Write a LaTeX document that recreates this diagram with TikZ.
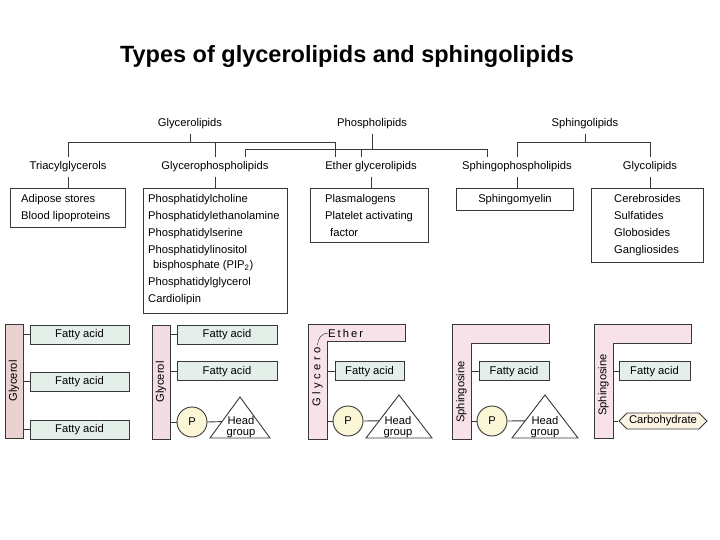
\documentclass[tikz,border=0pt]{standalone}
\usepackage{fontspec}
\setmainfont{Liberation Sans}
\usetikzlibrary{calc,shapes.symbols}
\colorlet{linecol}{black!78}
\definecolor{glycol}{RGB}{234,210,208}
\definecolor{glyccol}{RGB}{242,221,227}
\definecolor{sphcol}{RGB}{247,226,233}
\definecolor{fattycol}{RGB}{229,239,233}
\definecolor{pcol}{RGB}{251,246,214}
\definecolor{carbcol}{RGB}{252,244,226}
\tikzset{
  every node/.style={font=\fontsize{11.2}{17}\selectfont},
  lbl/.style={text height=8pt, text depth=2.5pt, inner xsep=1pt, inner ysep=4.5pt},
  treeline/.style={draw=linecol, line width=0.9pt},
  listbox/.style={draw=linecol, line width=1pt, fill=white, anchor=north west, inner sep=0pt},
  listtext/.style={align=left, anchor=north west, inner sep=0pt},
  fatty/.style={draw=linecol, line width=0.9pt, fill=fattycol, minimum height=19pt, inner sep=0pt,
                text height=8pt, text depth=1.5pt},
  backbone/.style={draw=linecol, line width=0.9pt, rotate=90, inner sep=0pt},
  pgroup/.style={circle, draw=linecol, line width=0.9pt, fill=pcol, minimum size=30pt, inner sep=0pt},
  headtri/.style={draw=linecol, line width=0.9pt, fill=white},
  headtext/.style={align=center, font=\fontsize{11.2}{11.5}\selectfont, inner sep=0pt},
  link/.style={draw=linecol, line width=0.9pt},
}

\begin{document}
\begin{tikzpicture}[x=1pt, y=-1pt]

  % Page.
  \fill[white] (0,0) rectangle (720,540);
  \useasboundingbox (0,0) rectangle (720,540);

  % Title.
  \node[font=\fontsize{23.5}{28}\selectfont\bfseries] (title) at (347,56)
    {Types of glycerolipids and sphingolipids};

  % Class names, two rows.
  \node[lbl] (glycerolipids) at (190,124) {Glycerolipids};
  \node[lbl] (phospholipids) at (372,124) {Phospholipids};
  \node[lbl] (sphingolipids) at (585,124) {Sphingolipids};
  \node[lbl] (triacyl)      at (68,167)  {Triacylglycerols};
  \node[lbl] (glycerophos)  at (215,167) {Glycerophospholipids};
  \node[lbl] (ether)        at (371,167) {Ether glycerolipids};
  \node[lbl] (sphingophos)  at (517,167) {Sphingophospholipids};
  \node[lbl] (glycolipids)  at (650,167) {Glycolipids};

  % Example boxes.
  \node[listbox, minimum width=115pt, minimum height=39pt]  (adiposebox) at (10,188) {};
  \node[listbox, minimum width=144pt, minimum height=125pt] (phosbox)    at (143,188) {};
  \node[listbox, minimum width=118pt, minimum height=54pt]  (plasmabox)  at (310,188) {};
  \node[listbox, minimum width=117pt, minimum height=22pt]  (myelinbox)  at (456,188) {};
  \node[listbox, minimum width=112pt, minimum height=74pt]  (cerebbox)   at (591,188) {};

  \node[listtext] (adiposetxt) at (21,194) {Adipose stores\\Blood lipoproteins};
  \node[listtext] (phostxt) at (148,194) {Phosphatidylcholine\\Phosphatidylethanolamine\\
    Phosphatidylserine\\Phosphatidylinositol\\[-2pt]\hspace*{5pt}bisphosphate (PIP\textsubscript{2})\\
    Phosphatidylglycerol\\Cardiolipin};
  \node[listtext] (plasmatxt) at (325,194) {Plasmalogens\\Platelet activating\\\hspace*{5pt}factor};
  \node (myelintxt) at (myelinbox.center) {Sphingomyelin};
  \node[listtext] (cerebtxt) at (614,194) {Cerebrosides\\Sulfatides\\Globosides\\Gangliosides};

  % Tree connectors.
  \coordinate (gbar) at (0,142);
  \coordinate (pbar) at (0,149);
  \coordinate (etherL) at ($(ether.north)+(-36,0)$);
  \coordinate (etherR) at ($(ether.north)+(-10,0)$);
  \coordinate (glphR)  at ($(glycerophos.north)+(30,0)$);
  \coordinate (sphphL) at ($(sphingophos.north)+(-30,0)$);

  \draw[treeline] (glycerolipids.south) -- (glycerolipids.south |- gbar);
  \draw[treeline] (triacyl.north) |- (etherL |- gbar) -- (etherL);
  \draw[treeline] (glycerophos.north) -- (glycerophos.north |- gbar);

  \draw[treeline] (phospholipids.south) -- (phospholipids.south |- pbar);
  \draw[treeline] (glphR) |- (sphphL |- pbar) -- (sphphL);
  \draw[treeline] (etherR) -- (etherR |- pbar);

  \draw[treeline] (sphingolipids.south) -- (sphingolipids.south |- gbar);
  \draw[treeline] (sphingophos.north) |- (glycolipids.north |- gbar) -- (glycolipids.north);

  % Stems down to the boxes.
  \foreach \lb/\bx in {triacyl/adiposebox, glycerophos/phosbox, ether/plasmabox,
                       sphingophos/myelinbox, glycolipids/cerebbox} {
    \draw[treeline] (\lb.south) -- (\lb.south |- \bx.north);
  }

  % Triacylglycerol.
  \node[backbone, fill=glycol, minimum width=114pt, minimum height=18pt] (gly1) at (14,381) {Glycerol};
  \foreach \y/\nm in {334.5/fa1a, 381.5/fa1b, 429.5/fa1c} {
    \node[fatty, minimum width=99pt] (\nm) at (79.5,\y) {Fatty acid};
    \draw[link] (\nm.west) -- (gly1.south |- \nm.west);
  }

  % Glycerophospholipid.
  \node[backbone, fill=glyccol, minimum width=114pt, minimum height=18pt] (gly2) at (161,382) {Glycerol};
  \foreach \y/\nm in {334.5/fa2a, 371/fa2b} {
    \node[fatty, minimum width=100pt] (\nm) at (227,\y) {Fatty acid};
    \draw[link] (\nm.west) -- (gly2.south |- \nm.west);
  }
  \node[pgroup] (p2) at (192,422) {P};
  \draw[link] (p2.west) -- (gly2.south |- p2.west);
  \coordinate (h2a) at (240,397);
  \coordinate (h2l) at (210,438);
  \coordinate (h2r) at (270,438);
  \draw[headtri] (h2a) -- (h2l) -- (h2r) -- cycle;
  \node[headtext] (head2) at (241,427) {Head\\group};
  \draw[link] (p2.east) -- ($(h2a)!0.6!(h2l)$);

  % Ether glycerolipid.
  \draw[draw=linecol, line width=0.9pt, fill=sphcol]
    (308,324) -- (405,324) -- (405,341) -- (327,341) -- (327,439) -- (308,439) -- cycle;
  \coordinate (arm3) at (327,380);
  \node[rotate=90, inner sep=0pt, font=\fontsize{11.2}{13}\selectfont\addfontfeature{LetterSpace=30}]
    (glycero) at (317.5,377) {Glycero};
  \node[anchor=west, inner sep=0pt, font=\fontsize{11.2}{13}\selectfont\addfontfeature{LetterSpace=18}]
    (ethertxt) at (328,333) {Ether};
  \draw[link, line width=0.5pt] ([yshift=2pt]glycero.east) to[out=90, in=180] (ethertxt.west);
  \node[fatty, minimum width=69pt] (fa3) at (369.5,371) {Fatty acid};
  \draw[link] (fa3.west) -- (fa3.west -| arm3);
  \node[pgroup] (p3) at (348,421) {P};
  \draw[link] (p3.west) -- (p3.west -| arm3);
  \coordinate (h3a) at (399,395);
  \coordinate (h3l) at (366,438);
  \coordinate (h3r) at (432,438);
  \draw[headtri] (h3a) -- (h3l) -- (h3r) -- cycle;
  \node[headtext] (head3) at (398,427) {Head\\group};
  \draw[link] (p3.east) -- ($(h3a)!0.6!(h3l)$);

  % Sphingophospholipid.
  \draw[draw=linecol, line width=0.9pt, fill=sphcol]
    (452,324) -- (549,324) -- (549,343) -- (471,343) -- (471,439) -- (452,439) -- cycle;
  \coordinate (arm4) at (471,380);
  \node[rotate=90, inner sep=0pt] (sphing4) at (461.5,392) {Sphingosine};
  \node[fatty, minimum width=70pt] (fa4) at (514,371) {Fatty acid};
  \draw[link] (fa4.west) -- (fa4.west -| arm4);
  \node[pgroup] (p4) at (492,421) {P};
  \draw[link] (p4.west) -- (p4.west -| arm4);
  \coordinate (h4a) at (545,395);
  \coordinate (h4l) at (512,438);
  \coordinate (h4r) at (578,438);
  \draw[headtri] (h4a) -- (h4l) -- (h4r) -- cycle;
  \node[headtext] (head4) at (545,427) {Head\\group};
  \draw[link] (p4.east) -- ($(h4a)!0.6!(h4l)$);

  % Glycolipid.
  \draw[draw=linecol, line width=0.9pt, fill=sphcol]
    (594,324) -- (691,324) -- (691,343) -- (613,343) -- (613,438) -- (594,438) -- cycle;
  \coordinate (arm5) at (613,380);
  \node[rotate=90, inner sep=0pt] (sphing5) at (603.5,385) {Sphingosine};
  \node[fatty, minimum width=71pt] (fa5) at (654.5,371) {Fatty acid};
  \draw[link] (fa5.west) -- (fa5.west -| arm5);
  \node[signal, signal to=west and east, draw=linecol, line width=0.9pt, fill=carbcol,
        inner xsep=2pt, inner ysep=1pt, minimum height=16pt] (carb) at (663,421) {Carbohydrate};
  \draw[link] (carb.west) -- (carb.west -| arm5);

\end{tikzpicture}
\end{document}
